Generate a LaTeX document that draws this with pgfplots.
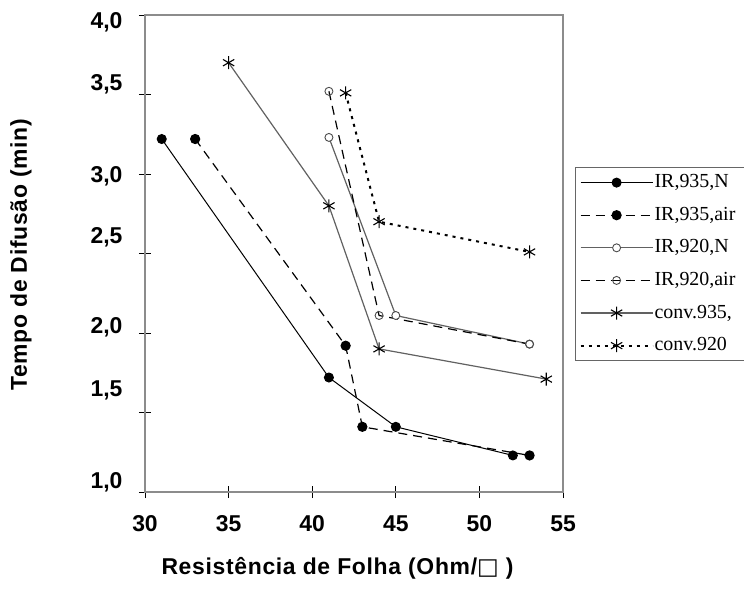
\documentclass[border=0pt]{standalone}
\usepackage{pgfplots}
\pgfplotsset{compat=1.18}
\usepackage{fontspec}
\setmainfont{Liberation Sans}
\newfontfamily\legfont{Liberation Serif}
\newfontfamily\labfont[LetterSpace=3]{Liberation Sans}
\newfontfamily\symfont{DejaVu Sans}
\definecolor{lgray}{gray}{0.38}
\definecolor{framegray}{gray}{0.55}

\pgfplotstableread{
x y
31 3.22
41 1.72
45 1.41
52 1.23
}\irnineN
\pgfplotstableread{
x y
33 3.22
42 1.92
43 1.41
53 1.23
}\irnineair
\pgfplotstableread{
x y
41 3.23
45 2.11
53 1.93
}\irtwoN
\pgfplotstableread{
x y
41 3.52
44 2.11
53 1.93
}\irtwoair
\pgfplotstableread{
x y
35 3.70
41 2.80
44 1.90
54 1.71
}\convnine
\pgfplotstableread{
x y
42 3.51
44 2.70
53 2.51
}\convtwo

\begin{document}
\begin{tikzpicture}
\begin{axis}[
  at={(145bp,100bp)}, anchor=south west,
  scale only axis, width=418bp, height=477bp,
  xmin=30, xmax=55, ymin=1, ymax=4,
  tick pos=left,
  xtick={30,35,...,55},
  ytick={1,1.5,...,4}, yticklabels={},
  extra y ticks={1.063,1.642,2.033,2.600,2.984,3.563,3.953},
  extra y tick labels={{1,0},{1,5},{2,0},{2,5},{3,0},{3,5},{4,0}},
  extra y tick style={major tick length=0pt},
  /pgf/number format/assume math mode=true,
  ticklabel style={font=\bfseries\fontsize{23}{27}\selectfont},
  xticklabel style={yshift=-14bp},
  yticklabel style={xshift=-19bp},
  tick align=center, major tick length=12bp,
  tick style={black, line width=0.9bp},
  axis line style={framegray, line width=1.6bp},
  xlabel={Resistência de Folha (Ohm/{\symfont □} )},
  ylabel={Tempo de Difusão (min)},
  label style={font=\labfont\bfseries\fontsize{23}{27}\selectfont},
  xlabel style={at={(axis description cs:0.4605,-0.1593)}, anchor=center},
  ylabel style={at={(axis description cs:-0.2967,0.497)}, anchor=center, rotate=0},
  legend image code/.code={\draw[mark repeat=2,mark phase=2,#1] plot coordinates {(0bp,0bp) (36bp,0bp) (72bp,0bp)};},
  legend style={at={(axis description cs:1.0287,0.6813)}, anchor=north west,
    draw=black!60, line width=1.2bp, font=\legfont\fontsize{20}{24}\selectfont,
    inner xsep=4bp, inner ysep=5bp, row sep=12.6bp,
    nodes={inner sep=1bp, text height=14bp, text depth=4bp}},
  legend cell align=left,
]
\addplot[black, line width=1bp, mark=*, mark size=4.5bp, mark options={solid, fill=black}] table {\irnineN};
\addlegendentry{\makebox[100bp][l]{IR,935,N}}
\addplot[black, line width=1.2bp, dash pattern=on 9bp off 6bp, mark=*, mark size=4.5bp, mark options={solid, fill=black}] table {\irnineair};
\addlegendentry{\makebox[100bp][l]{IR,935,air}}
\addplot[lgray, line width=1.2bp, mark=*, mark size=4bp, mark options={solid, fill=white, draw=black!70, line width=0.9bp}] table {\irtwoN};
\addlegendentry{\makebox[100bp][l]{IR,920,N}}
\addplot[black, line width=1.2bp, dash pattern=on 9bp off 6bp, mark=o, mark size=4bp, mark options={solid, draw=black!70, line width=0.9bp}] table {\irtwoair};
\addlegendentry{\makebox[100bp][l]{IR,920,air}}
\addplot[lgray, line width=1.2bp, mark=asterisk, mark size=6.5bp, mark options={solid, black, line width=1.1bp}] table {\convnine};
\addlegendentry{\makebox[100bp][l]{conv.935,}}
\addplot[black, line width=2bp, dash pattern=on 3bp off 5bp, mark=asterisk, mark size=6.5bp, mark options={solid, black, line width=1.1bp}] table {\convtwo};
\addlegendentry{\makebox[100bp][l]{conv.920}}
\end{axis}
\pgfresetboundingbox
\useasboundingbox (0,0) rectangle (744bp,592bp);
\end{tikzpicture}
\end{document}
